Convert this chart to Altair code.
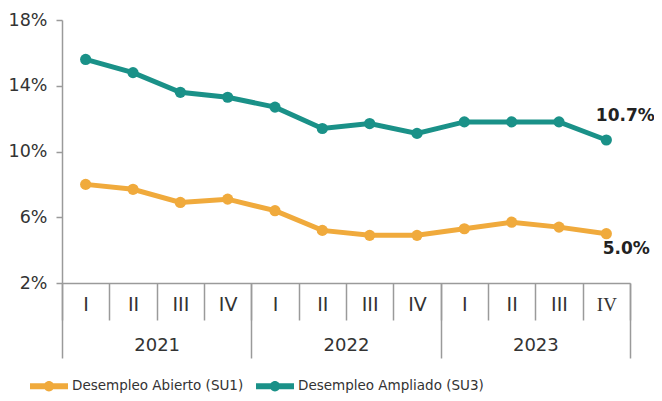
import altair as alt
import pandas as pd

years = ["2021"] * 4 + ["2022"] * 4 + ["2023"] * 4
quarters = ["I", "II", "III", "IV"] * 3
su1 = [8.0, 7.7, 6.9, 7.1, 6.4, 5.2, 4.9, 4.9, 5.3, 5.7, 5.4, 5.0]
su3 = [15.6, 14.8, 13.6, 13.3, 12.7, 11.4, 11.7, 11.1, 11.8, 11.8, 11.8, 10.7]
series_names = ["Desempleo Abierto (SU1)", "Desempleo Ampliado (SU3)"]
colors = ["#F0AA3C", "#1A9188"]
y_ticks = [2, 6, 10, 14, 18]

keys = [f"{y} {q}" for y, q in zip(years, quarters)]
rows = []
for name, vals in zip(series_names, [su1, su3]):
    for k, yr, q, v in zip(keys, years, quarters, vals):
        rows.append(dict(key=k, year=yr, q=q, serie=name, value=v))
df = pd.DataFrame(rows)
df["label"] = df["value"].map(lambda v: f"{v:.1f}%")
last_su1 = df[(df.key == keys[-1]) & (df.serie == series_names[0])]
last_su3 = df[(df.key == keys[-1]) & (df.serie == series_names[1])]

FONT = "DejaVu Sans"
AX = "#9a9a9a"
TXT = "#333333"

xscale = alt.Scale(type="band", domain=keys, paddingInner=0, paddingOuter=0)
xaxis = alt.Axis(
    orient="bottom", tickBand="extent", tickSize=37, labelPadding=-25,
    labelExpr="split(datum.value, ' ')[1]", labelAngle=0,
    domainColor=AX, tickColor=AX, domainWidth=1.5, tickWidth=1.5,
    labelFont=alt.condition("datum.value == '2023 IV'", alt.value("Liberation Serif"), alt.value(FONT)),
    labelFontSize=19, labelColor=TXT, title=None,
)
x = alt.X("key:O", scale=xscale, sort=keys, axis=xaxis)
y = alt.Y(
    "value:Q", scale=alt.Scale(domain=[2, 18]),
    axis=alt.Axis(values=y_ticks, labelExpr="datum.value + '%'", grid=False,
                  tickSize=6, labelPadding=9, domainColor=AX, tickColor=AX,
                  domainWidth=1.5, tickWidth=1.5, labelFont=FONT, labelFontSize=17.5,
                  labelColor=TXT, title=None),
)
cscale = alt.Scale(domain=series_names, range=colors)
legend = alt.Legend(
    title=None, orient="none", direction="horizontal", legendX=-32, legendY=347,
    symbolType="M -1 -0.16 L 1 -0.16 L 1 0.16 L -1 0.16 Z M 0.27 0 A 0.27 0.27 0 1 1 -0.27 0 A 0.27 0.27 0 1 1 0.27 0 Z",
    symbolSize=1444, symbolStrokeWidth=0, labelFont=FONT, labelFontSize=13.5,
    labelColor=TXT, labelOffset=4, columnPadding=12, labelLimit=400,
)

lines = alt.Chart(df).mark_line(strokeWidth=5).encode(
    x=x, y=y, color=alt.Color("serie:N", scale=cscale, legend=legend)
)
points = alt.Chart(df).mark_point(filled=True, size=125, opacity=1).encode(
    x=x, y=y, color=alt.Color("serie:N", scale=cscale, legend=legend)
)
lab1 = alt.Chart(last_su1).mark_text(
    font=FONT, fontSize=17, fontWeight="bold", color="#222222", dx=20, dy=15
).encode(x=x, y=y, text="label:N")
lab3 = alt.Chart(last_su3).mark_text(
    font=FONT, fontSize=17, fontWeight="bold", color="#222222", dx=19, dy=-24
).encode(x=x, y=y, text="label:N")

inner = alt.layer(lines, points, lab1, lab3)

year_layer = alt.Chart(df).mark_tick(opacity=0).encode(
    x=alt.X("year:O", scale=alt.Scale(type="band", paddingInner=0, paddingOuter=0),
            axis=alt.Axis(orient="bottom", tickBand="extent", tickSize=75,
                          labelPadding=-22, domain=False, tickColor=AX, tickWidth=1.5,
                          labelFont=FONT, labelFontSize=18, labelColor=TXT,
                          labelAngle=0, title=None))
)

chart = alt.layer(inner, year_layer).resolve_scale(x="independent").properties(
    width=568, height=263,
    autosize=alt.AutoSizeParams(type="none"),
    padding={"left": 54, "top": 12, "right": 24, "bottom": 110},
).configure_view(stroke=None)

chart.save("out.html", embed_options={"renderer": "svg", "actions": False})
